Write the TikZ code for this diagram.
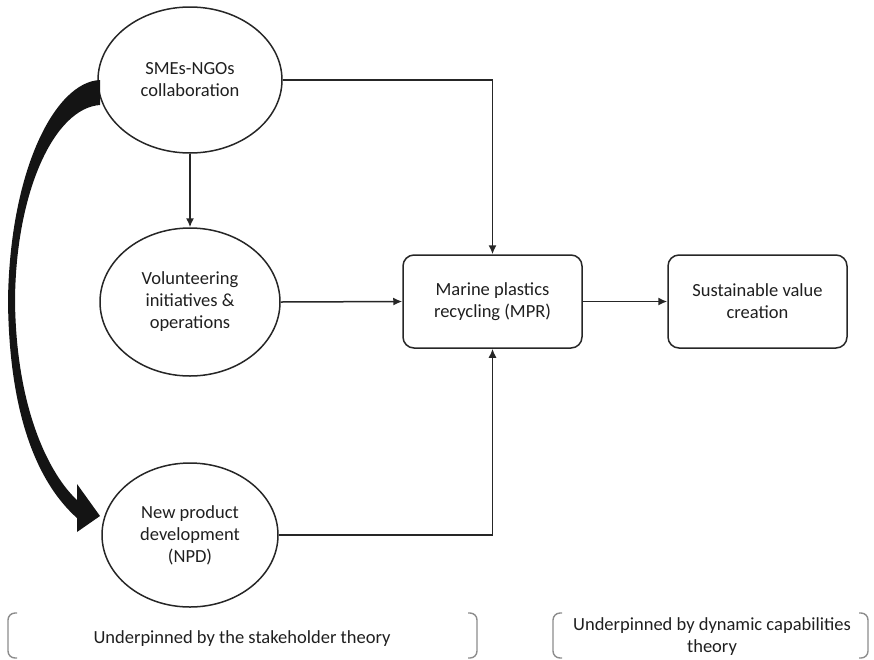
\documentclass[tikz,border=0pt]{standalone}
\usepackage{fontspec}
\setmainfont{Carlito}
\usetikzlibrary{shapes.geometric,arrows.meta}
\begin{document}
\begin{tikzpicture}[x=1pt,y=-1pt,
  every node/.style={font=\fontsize{18.5}{22}\selectfont, text=black!88, align=center},
  ell/.style={ellipse, draw=black!85, line width=1.5pt, inner sep=0pt},
  rbox/.style={draw=black!85, line width=1.5pt, rounded corners=11pt, minimum width=179pt, minimum height=93pt, inner sep=0pt},
  conn/.style={draw=black!85, line width=1.5pt, -{Latex[length=9pt,width=8pt]}},
  bracket/.style={draw=black!45, line width=1.4pt, rounded corners=7pt},
  lbl/.style={inner sep=0pt}]
\useasboundingbox (0,0) rectangle (874,659);
\node[ell, minimum width=184pt, minimum height=146pt] (sme) at (190,80) {SMEs-NGOs\\collaboration};
\node[ell, minimum width=180pt, minimum height=148pt] (vol) at (190,302) {Volunteering\\initiatives \&\\operations};
\node[ell, minimum width=176pt, minimum height=144pt] (npd) at (190,535) {New product\\development\\(NPD)};
\node[rbox] (mpr) at (492.5,301.5) {Marine plastics\\recycling (MPR)};
\node[rbox] (svc) at (757.5,301.5) {Sustainable value\\creation};
\draw[conn] (sme.south) -- (vol.north);
\draw[conn] (sme.east) -| (mpr.north);
\draw[conn] (vol.east) -- (mpr.west);
\draw[conn] (npd.east) -| (mpr.south);
\draw[conn] (mpr.east) -- (svc.west);
% thick curved arrow
\fill[black!92] (100,80) .. controls (55,82) and (10,170) .. (8,300)
  .. controls (9,420) and (40,485) .. (77,518)
  -- (77,532) -- (100,516) -- (77,484) -- (77,500)
  .. controls (50,475) and (16,410) .. (15,300)
  .. controls (16,190) and (55,108) .. (100,105) -- cycle;
% brackets
\draw[bracket] (17,613) -- (8,613) -- (8,658) -- (17,658);
\draw[bracket] (468,613) -- (477,613) -- (477,658) -- (468,658);
\draw[bracket] (562,613) -- (553,613) -- (553,658) -- (562,658);
\draw[bracket] (859,613) -- (868,613) -- (868,658) -- (859,658);
\node[lbl] (t1) at (242,639) {Underpinned by the stakeholder theory};
\node[lbl] (t2) at (712,637) {Underpinned by dynamic capabilities\\theory};
\end{tikzpicture}
\end{document}
